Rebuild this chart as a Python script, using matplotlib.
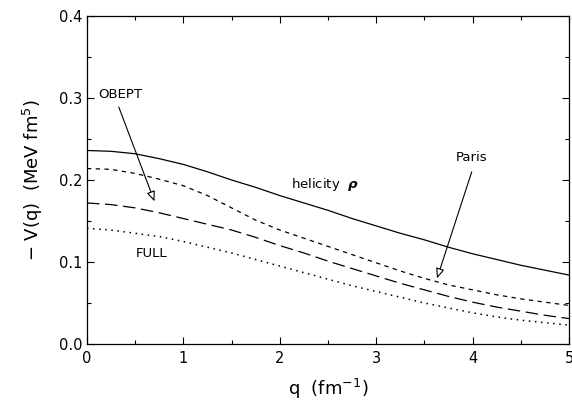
import numpy as np
import matplotlib
matplotlib.use("Agg")
import matplotlib.pyplot as plt
from matplotlib.ticker import MultipleLocator, FormatStrFormatter

# values
q = [0.0, 0.25, 0.5, 0.75, 1.0, 1.25, 1.5, 1.75, 2.0, 2.25, 2.5,
     2.75, 3.0, 3.25, 3.5, 3.75, 4.0, 4.25, 4.5, 4.75, 5.0]
helicity_rho = [0.236, 0.235, 0.232, 0.226, 0.219, 0.210, 0.200, 0.191, 0.181, 0.172, 0.163,
                0.153, 0.144, 0.135, 0.127, 0.118, 0.110, 0.103, 0.096, 0.090, 0.084]
paris = [0.214, 0.213, 0.208, 0.201, 0.193, 0.181, 0.166, 0.151, 0.139, 0.129, 0.119,
         0.109, 0.099, 0.089, 0.080, 0.072, 0.066, 0.060, 0.055, 0.051, 0.047]
obept = [0.172, 0.170, 0.166, 0.160, 0.153, 0.146, 0.139, 0.130, 0.120, 0.111, 0.101,
         0.092, 0.083, 0.074, 0.066, 0.058, 0.051, 0.045, 0.040, 0.035, 0.031]
full = [0.141, 0.139, 0.135, 0.131, 0.125, 0.118, 0.111, 0.103, 0.095, 0.087, 0.079,
        0.071, 0.064, 0.057, 0.050, 0.044, 0.038, 0.033, 0.029, 0.026, 0.023]

fig = plt.figure(figsize=(5.72, 4.0), dpi=100)
ax = fig.add_axes([0.152, 0.14, 0.843, 0.82])

ax.plot(q, helicity_rho, color='black', lw=0.9, ls='-')
ax.plot(q, paris, color='black', lw=0.9, ls=(0, (3.5, 3.5)))
ax.plot(q, obept, color='black', lw=0.9, ls=(0, (10, 4.5)))
ax.plot(q, full, color='black', lw=1.1, ls=(0, (1, 3)))

ax.set_xlim(0, 5)
ax.set_ylim(0, 0.4)
ax.xaxis.set_major_locator(MultipleLocator(1))
ax.xaxis.set_minor_locator(MultipleLocator(0.5))
ax.yaxis.set_major_locator(MultipleLocator(0.1))
ax.yaxis.set_minor_locator(MultipleLocator(0.05))
ax.yaxis.set_major_formatter(FormatStrFormatter('%.1f'))
ax.tick_params(which='both', direction='in', top=True, right=True, labelsize=10.5, width=0.8)
ax.tick_params(which='major', length=5)
ax.tick_params(which='minor', length=3)
ax.tick_params(axis='x', which='major', pad=5)
for s in ax.spines.values():
    s.set_linewidth(0.9)

ax.set_xlabel('q  (fm$^{-1}$)', fontsize=13, labelpad=8)
ax.set_ylabel('$-$ V(q)  (MeV fm$^5$)', fontsize=13, labelpad=10)

arrow = dict(arrowstyle='-|>,head_length=0.6,head_width=0.25', color='black',
             lw=0.8, fc='white', shrinkA=0, shrinkB=0)
ax.text(0.12, 0.304, 'OBEPT', fontsize=9.5, va='center', ha='left')
ax.annotate('', xy=(0.70, 0.174), xytext=(0.33, 0.289), arrowprops=arrow)
ax.annotate('', xy=(3.63, 0.080), xytext=(3.99, 0.210), arrowprops=arrow)
ax.text(3.82, 0.228, 'Paris', fontsize=9.5, va='center', ha='left')
ax.text(0.51, 0.110, 'FULL', fontsize=9.5, va='center', ha='left')
ax.text(2.12, 0.194, r'helicity  $\boldsymbol{\rho}$', fontsize=9.5, va='center', ha='left')

fig.savefig('out.png', dpi=100)
